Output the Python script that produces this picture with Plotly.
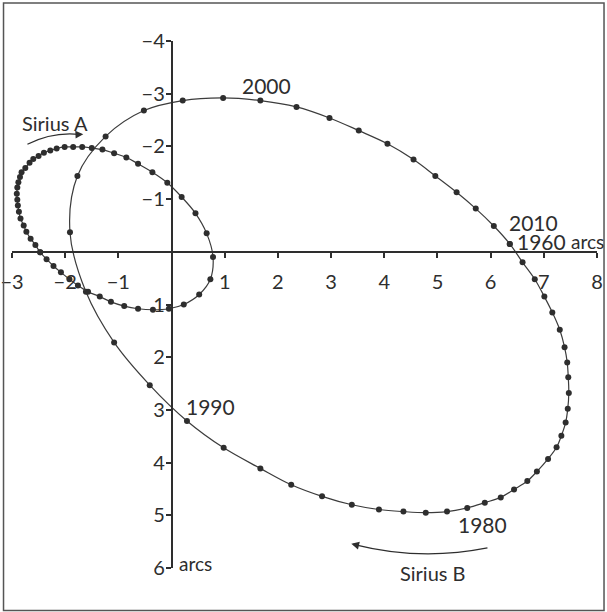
import plotly.graph_objects as go

# positions in arcseconds, one dot per year, starting 1960 (y grows downward)
sirius_b_x = [6.36, 6.60, 6.83, 7.01, 7.16, 7.30, 7.39, 7.44, 7.46, 7.47,
              7.45, 7.41, 7.33, 7.24, 7.08, 6.87, 6.69, 6.44, 6.19, 5.89,
              5.56, 5.18, 4.78, 4.36, 3.90, 3.39, 2.83, 2.25, 1.67, 0.98,
              0.29, -0.41, -1.08, -1.61, -1.91, -1.77, -1.24, -0.52, 0.21, 0.97,
              1.67, 2.35, 2.97, 3.52, 4.06, 4.55, 4.96, 5.36, 5.72, 6.06]
sirius_b_y = [-0.15, 0.20, 0.52, 0.85, 1.15, 1.48, 1.81, 2.10, 2.38, 2.68,
              2.98, 3.24, 3.49, 3.71, 3.93, 4.17, 4.35, 4.51, 4.66, 4.76,
              4.86, 4.93, 4.95, 4.93, 4.89, 4.80, 4.64, 4.42, 4.11, 3.72,
              3.21, 2.53, 1.72, 0.76, -0.37, -1.44, -2.19, -2.68, -2.87, -2.92,
              -2.87, -2.75, -2.54, -2.30, -2.05, -1.75, -1.44, -1.13, -0.82, -0.49]

sirius_a_x = [-2.47, -2.56, -2.65, -2.73, -2.78, -2.84, -2.87, -2.89, -2.90, -2.91,
              -2.90, -2.88, -2.85, -2.82, -2.75, -2.67, -2.60, -2.50, -2.40, -2.28,
              -2.16, -2.01, -1.85, -1.68, -1.50, -1.30, -1.08, -0.85, -0.63, -0.36,
              -0.08, 0.19, 0.45, 0.66, 0.78, 0.73, 0.52, 0.23, -0.05, -0.35,
              -0.63, -0.89, -1.14, -1.35, -1.57, -1.76, -1.92, -2.08, -2.22, -2.35]
sirius_a_y = [0.01, -0.13, -0.25, -0.38, -0.50, -0.63, -0.76, -0.88, -0.99, -1.10,
              -1.22, -1.32, -1.42, -1.51, -1.59, -1.69, -1.76, -1.82, -1.88, -1.92,
              -1.96, -1.99, -1.99, -1.99, -1.97, -1.94, -1.87, -1.79, -1.67, -1.51,
              -1.31, -1.04, -0.73, -0.35, 0.10, 0.52, 0.81, 1.00, 1.08, 1.10,
              1.08, 1.03, 0.95, 0.85, 0.76, 0.64, 0.52, 0.39, 0.27, 0.14]

x_ticks = [-3, -2, -1, 1, 2, 3, 4, 5, 6, 7, 8]
y_ticks = [-4, -3, -2, -1, 1, 2, 3, 4, 5, 6]

year_labels = ["2000", "2010", "1960", "1990", "1980"]
year_x = [1.78, 6.80, 6.96, 0.23, 5.85]
year_y = [-3.15, -0.56, -0.20, 2.93, 5.18]
year_anchor = ["center", "center", "center", "left", "center"]

INK = "#2e2e2e"
FONT = "Lato"

fig = go.Figure()

for xs, ys in [(sirius_b_x, sirius_b_y), (sirius_a_x, sirius_a_y)]:
    fig.add_trace(go.Scatter(
        x=xs + xs[:1], y=ys + ys[:1],
        mode="lines+markers",
        line=dict(color="#3c3c3c", width=1.2, shape="spline", smoothing=1),
        marker=dict(color=INK, size=6),
        showlegend=False, hoverinfo="skip",
    ))

for txt, x, y, anc in zip(year_labels, year_x, year_y, year_anchor):
    fig.add_annotation(x=x, y=y, text=txt, showarrow=False, xanchor=anc,
                       font=dict(size=21, color=INK, family=FONT))

# axis unit labels and star names
fig.add_annotation(x=7.82, y=-0.2, text="arcs", showarrow=False,
                   font=dict(size=19, color=INK, family=FONT))
fig.add_annotation(x=0.11, y=5.92, text="arcs", showarrow=False, xanchor="left",
                   font=dict(size=19, color=INK, family=FONT))
fig.add_annotation(x=-2.19, y=-2.45, text="Sirius A", showarrow=False,
                   font=dict(size=20, color=INK, family=FONT))
# anchor inside the axis range (plotly hides out-of-range annotations), shift down
fig.add_annotation(x=4.91, y=5.9, yshift=-10, text="Sirius B", showarrow=False,
                   font=dict(size=20, color=INK, family=FONT))

# curved motion arrows
fig.add_shape(type="path", xref="x", yref="y",
              path="M -2.71,-2.04 Q -2.25,-2.28 -1.74,-2.23",
              line=dict(color=INK, width=1.3))
fig.add_annotation(x=-1.66, y=-2.23, ax=-1.78, ay=-2.225, xref="x", yref="y",
                   axref="x", ayref="y", text="", showarrow=True,
                   arrowhead=2, arrowsize=1.2, arrowwidth=1.3, arrowcolor=INK)
fig.add_shape(type="path", xref="x", yref="y",
              path="M 5.94,5.62 Q 4.68,5.87 3.46,5.56",
              line=dict(color=INK, width=1.3))
fig.add_annotation(x=3.38, y=5.54, ax=3.52, ay=5.575, xref="x", yref="y",
                   axref="x", ayref="y", text="", showarrow=True,
                   arrowhead=2, arrowsize=1.2, arrowwidth=1.3, arrowcolor=INK)

# outer frame
fig.add_shape(type="rect", xref="paper", yref="paper",
              x0=-0.0145, x1=1.012, y0=-0.0805, y1=1.072,
              line=dict(color="#555555", width=1.5))

axis_common = dict(showgrid=False, zeroline=False, showline=True,
                   linecolor=INK, linewidth=1.5, ticks="outside",
                   ticklen=5, tickwidth=1.5, tickcolor=INK,
                   anchor="free", automargin=False,
                   tickfont=dict(size=20, color=INK, family=FONT))

fig.update_layout(
    width=607, height=612,
    margin=dict(l=12, r=10, t=41, b=44),
    template="none",
    paper_bgcolor="white", plot_bgcolor="white",
    showlegend=False,
    xaxis=dict(range=[-3, 8], tickvals=x_ticks, position=0.6,
               ticklabelstandoff=7, **axis_common),
    yaxis=dict(range=[6, -4], tickvals=y_ticks, position=3 / 11,
               ticklabelstandoff=-3, **axis_common),
)

# drop the browser's default body margin so the figure sits at the page corner
fig.write_html("out.html", config={"displayModeBar": False},
               post_script="document.body.style.margin='0px';")
